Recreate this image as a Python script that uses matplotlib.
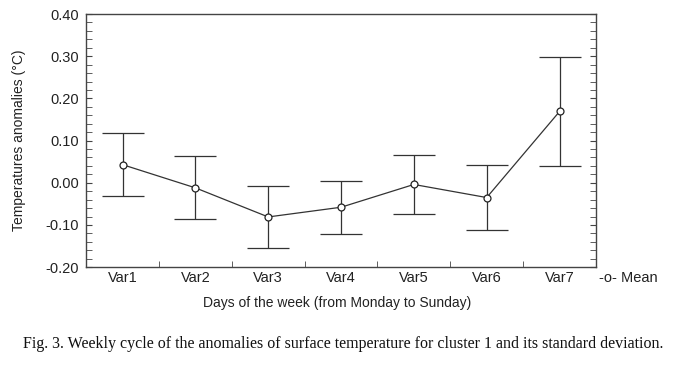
import matplotlib
matplotlib.use("Agg")
import matplotlib.pyplot as plt
from matplotlib.ticker import MultipleLocator, FixedLocator

days = ["Var1", "Var2", "Var3", "Var4", "Var5", "Var6", "Var7"]
mean = [0.043, -0.012, -0.081, -0.058, -0.004, -0.035, 0.169]
sd = [0.075, 0.075, 0.074, 0.063, 0.070, 0.076, 0.129]

fig = plt.figure(figsize=(6.78, 3.70), dpi=100)
ax = fig.add_axes([0.127, 0.278, 0.752, 0.684])

x = list(range(1, len(days) + 1))
ax.errorbar(x, mean, yerr=sd, fmt="-o", color="#333333", lw=0.9,
            elinewidth=0.9, capsize=15, capthick=0.9,
            mfc="white", mec="#222222", ms=5, mew=0.9)

ax.set_xlim(0.5, 7.5)
ax.set_ylim(-0.2, 0.4)
ax.set_xticks(x)
ax.set_xticklabels(days)
ax.xaxis.set_minor_locator(FixedLocator([1.5, 2.5, 3.5, 4.5, 5.5, 6.5]))
ax.yaxis.set_major_locator(MultipleLocator(0.1))
ax.yaxis.set_minor_locator(MultipleLocator(0.02))
ax.yaxis.set_major_formatter(matplotlib.ticker.FormatStrFormatter("%.2f"))

for s in ax.spines.values():
    s.set_color("#444444")
    s.set_linewidth(1.0)

ax.tick_params(axis="x", which="major", length=0, pad=3, labelsize=10.5)
ax.tick_params(axis="x", which="minor", direction="in", length=4, color="#444444")
ax.tick_params(axis="y", which="both", direction="in", right=True,
               color="#444444", labelsize=10.5, pad=5)
ax.tick_params(axis="y", which="major", length=4)
ax.tick_params(axis="y", which="minor", length=4)

for lab in ax.get_xticklabels() + ax.get_yticklabels():
    lab.set_fontfamily("Liberation Sans")
    lab.set_color("#222222")

ax.set_ylabel("Temperatures anomalies (°C)", fontsize=10,
              fontfamily="Liberation Sans", color="#222222", labelpad=14)
fig.text(0.497, 0.181, "Days of the week (from Monday to Sunday)",
         ha="center", va="center", fontsize=10, fontfamily="Liberation Sans",
         color="#222222")
fig.text(0.884, 0.248, "-o- Mean", ha="left", va="center", fontsize=10.5,
         fontfamily="Liberation Sans", color="#222222")
fig.text(0.506, 0.07,
         "Fig. 3. Weekly cycle of the anomalies of surface temperature for cluster 1 and its standard deviation.",
         ha="center", va="center", fontsize=11.5, fontfamily="Liberation Serif",
         color="#111111")

fig.savefig("out.png", dpi=100, facecolor="white")
